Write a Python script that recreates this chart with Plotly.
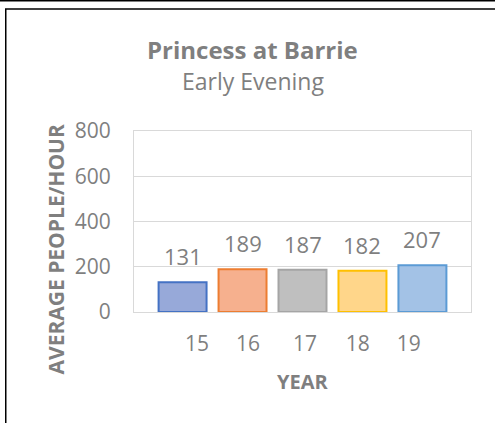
import plotly.graph_objects as go

# ---- data ----
years = ["15", "16", "17", "18", "19"]
values = [131, 189, 187, 182, 207]
fill_colors = ["#97A9D9", "#F6B08E", "#BFBFBF", "#FFD68A", "#A3C2E6"]
line_colors = ["#4472C4", "#ED7D31", "#A5A5A5", "#FFC000", "#5B9BD5"]
y_ticks = [0, 200, 400, 600, 800]
# horizontal offsets of the year labels relative to their bars (layout)
label_offsets = [0.24, 0.09, 0.04, -0.08, -0.23]

W, H = 495, 423
L, R, T, B = 134, 471, 131, 312  # plot area in pixels

def px(x):
    return (x - L) / (R - L)

def py(y):
    return (B - y) / (B - T)

GRAY = "#7F7F7F"
FONT = "Open Sans"

xpos = list(range(len(years)))

fig = go.Figure()
fig.add_trace(go.Bar(
    x=xpos,
    y=values,
    width=0.8,
    marker=dict(color=fill_colors, line=dict(color=line_colors, width=2)),
    hoverinfo="skip",
))

annotations = []
for i, v in zip(xpos, values):
    annotations.append(dict(
        x=i, y=v, xref="x", yref="y", text=str(v), showarrow=False,
        yanchor="bottom", yshift=9,
        font=dict(family=FONT, size=22, color=GRAY),
    ))

annotations += [
    dict(x=px(252), y=py(50), xref="paper", yref="paper",
         text="<b>Princess at Barrie</b>", showarrow=False,
         xanchor="center", yanchor="middle",
         font=dict(family=FONT, size=24, color=GRAY)),
    dict(x=px(253), y=py(81), xref="paper", yref="paper",
         text="Early Evening", showarrow=False,
         xanchor="center", yanchor="middle",
         font=dict(family=FONT, size=23, color=GRAY)),
    dict(x=px(55.5), y=py(250), xref="paper", yref="paper",
         text="<b>AVERAGE PEOPLE/HOUR</b>", showarrow=False, textangle=-90,
         xanchor="center", yanchor="middle",
         font=dict(family=FONT, size=21, color=GRAY)),
    dict(x=px(302), y=py(381), xref="paper", yref="paper",
         text="<b>YEAR</b>", showarrow=False,
         xanchor="center", yanchor="middle",
         font=dict(family=FONT, size=20, color=GRAY)),
]

shapes = [
    dict(type="line", xref="paper", yref="paper",
         x0=px(0), x1=px(W), y0=py(0.75), y1=py(0.75),
         line=dict(color="#000000", width=1.5)),
    dict(type="line", xref="paper", yref="paper",
         x0=px(5), x1=px(W), y0=py(9), y1=py(9),
         line=dict(color="#000000", width=1.5)),
    dict(type="line", xref="paper", yref="paper",
         x0=px(5.75), x1=px(5.75), y0=py(9), y1=py(H),
         line=dict(color="#000000", width=1.5)),
]

fig.update_layout(
    width=W, height=H,
    margin=dict(l=L, r=W - R, t=T, b=H - B, pad=0),
    paper_bgcolor="white", plot_bgcolor="white",
    showlegend=False,
    annotations=annotations,
    shapes=shapes,
    bargap=0.2,
    hovermode=False,
)
fig.update_xaxes(
    range=[-0.81, 4.81],
    tickvals=[i + o for i, o in zip(xpos, label_offsets)],
    ticktext=years,
    ticks="", showgrid=False, zeroline=False,
    showline=True, mirror=True, linecolor="#D9D9D9", linewidth=1,
    tickfont=dict(family=FONT, size=21, color=GRAY),
    ticklabelstandoff=13,
)
fig.update_yaxes(
    range=[0, 800],
    tickvals=y_ticks,
    ticks="", showgrid=True, gridcolor="#D9D9D9", gridwidth=1,
    zeroline=False,
    showline=True, mirror=True, linecolor="#D9D9D9", linewidth=1,
    tickfont=dict(family=FONT, size=21, color=GRAY),
    ticklabelstandoff=18,
)

fig.write_html(
    "out.html",
    config={"displayModeBar": False, "staticPlot": True},
    post_script="document.body.style.margin='0';document.body.style.overflow='hidden';",
)
